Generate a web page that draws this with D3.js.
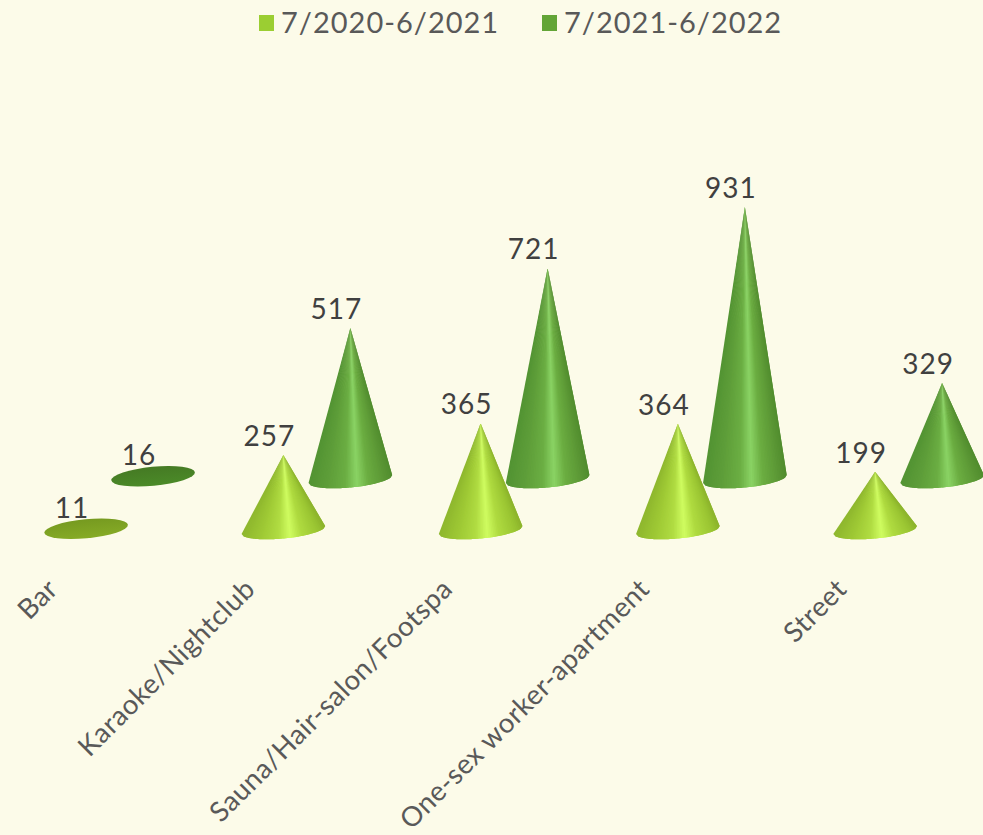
<!DOCTYPE html>
<html>
<head>
<meta charset="utf-8">
<script src="https://cdn.jsdelivr.net/npm/d3@7"></script>
<style>
  html, body { margin: 0; padding: 0; background: #fcfbe9; }
  svg { display: block; }
  text { font-family: "Lato", "Open Sans", sans-serif; }
</style>
</head>
<body>
<div id="chart"></div>
<script>
const categories = ["Bar", "Karaoke/Nightclub", "Sauna/Hair-salon/Footspa", "One-sex worker-apartment", "Street"];
const seriesNames = ["7/2020-6/2021", "7/2021-6/2022"];
const values2021 = [11, 257, 365, 364, 199];
const values2022 = [16, 517, 721, 931, 329];

const svgWidth = 983;
const svgHeight = 835;

// baseline of the front row, the back row sits further up
const baseY = 530;
const depthY = [0, -51];
const coneRx = 42;
const coneRy = 8.5;
const coneTilt = -5.5 * Math.PI / 180;
const coneSlices = 48;

const svg = d3.select("#chart")
    .append("svg")
    .attr("width", svgWidth)
    .attr("height", svgHeight)
    .attr("viewBox", `0 0 ${svgWidth} ${svgHeight}`);

const defs = svg.append("defs");

// shading across the cone, 0 is the left edge and 1 the right edge
const shadeStops = [0, 0.22, 0.42, 0.56, 0.7, 0.9, 1];
const shade = [
    d3.scaleLinear().domain(shadeStops).range(["#8fb82e", "#9fca35", "#b0dc42", "#cffc60", "#afdb40", "#9ac532", "#8ab12a"]),
    d3.scaleLinear().domain(shadeStops).range(["#539433", "#5f9f3a", "#6bae43", "#8ad364", "#6bad41", "#5a9634", "#4f8b2d"])
];
const discColors = [["#86ab26", "#769a20"], ["#4b8a28", "#457a24"]];

discColors.forEach(function (c, i) {
    const disc = defs.append("linearGradient")
        .attr("id", `disc${i}`)
        .attr("x1", 0).attr("y1", 1).attr("x2", 0).attr("y2", 0);
    disc.append("stop").attr("offset", 0).attr("stop-color", c[0]);
    disc.append("stop").attr("offset", 1).attr("stop-color", c[1]);
});

const x = d3.scaleBand()
    .domain(categories)
    .range([21, 1007.25]);

const x1 = d3.scaleBand()
    .domain(seriesNames)
    .range([31.6, 165.6]);

const y = d3.scaleLinear()
    .domain([0, 931])
    .range([0, -272]);

// labels under the cones
const xAxis = svg.append("g")
    .attr("class", "axis axis-x")
    .attr("transform", `translate(-74, 577)`)
    .call(d3.axisBottom(x).tickSize(0));
xAxis.select(".domain").remove();
xAxis.selectAll("text")
    .attr("transform", "rotate(-45)")
    .attr("text-anchor", "end")
    .attr("dx", 0)
    .attr("dy", "0.6em")
    .attr("fill", "#595959")
    .style("font-size", "27.5px")
    .style("letter-spacing", "0.5px");

const rows = d3.cross(categories.map((c, i) => i), [0, 1]);
// back row first so the front cones stay on top
rows.sort((a, b) => b[1] - a[1] || a[0] - b[0]);
const allValues = [values2021, values2022];

// point on the tilted base ellipse, u runs 0..1 from left edge to right edge along the front
function basePoint(u) {
    const px = coneRx * (2 * u - 1);
    const py = coneRy * Math.sqrt(Math.max(0, 1 - (2 * u - 1) * (2 * u - 1)));
    return [
        px * Math.cos(coneTilt) - py * Math.sin(coneTilt),
        px * Math.sin(coneTilt) + py * Math.cos(coneTilt)
    ];
}

const marks = svg.selectAll(".cone")
    .data(rows)
    .enter()
    .append("g")
    .attr("class", "cone")
    .attr("transform", d => `translate(${x(categories[d[0]]) + x1(seriesNames[d[1]]) + x1.bandwidth() / 2}, ${baseY + depthY[d[1]]})`);

marks.each(function (d) {
    const g = d3.select(this);
    const v = allValues[d[1]][d[0]];
    if (v < 30) {
        // tiny values are nearly flat, only the base disc shows
        g.append("ellipse")
            .attr("rx", coneRx)
            .attr("ry", coneRy + 1)
            .attr("transform", `translate(0, ${y(v) + 2}) rotate(${coneTilt * 180 / Math.PI})`)
            .attr("fill", `url(#disc${d[1]})`);
    } else {
        // fan of thin slices from the tip, so the highlight narrows towards the tip
        // each slice reaches over the next one so no seams show, and they paint left to right
        const slices = d3.range(coneSlices).map(k => k / coneSlices);
        g.selectAll("path")
            .data(slices)
            .enter()
            .append("path")
            .attr("d", function (u) {
                const pts = [u, u + 1 / coneSlices, u + 2 / coneSlices]
                    .map(t => basePoint(Math.min(t, 1)));
                return `M0,${y(v)}L${pts.map(p => p.join(",")).join("L")}Z`;
            })
            .attr("fill", u => shade[d[1]](u));
    }
    g.append("text")
        .text(v)
        .attr("x", -14)
        .attr("y", y(v) - 9)
        .attr("text-anchor", "middle")
        .attr("fill", "#404040")
        .style("font-size", "28px")
        .style("letter-spacing", "1px");
});

// legend
const legendX = [259, 542];
const legend = svg.selectAll(".legend")
    .data(seriesNames)
    .enter()
    .append("g")
    .attr("class", "legend")
    .attr("transform", (d, i) => `translate(${legendX[i]}, 15)`);
legend.append("rect")
    .attr("width", 15)
    .attr("height", 16)
    .attr("fill", (d, i) => ["#9bce32", "#63a537"][i]);
legend.append("text")
    .text(d => d)
    .attr("x", 22)
    .attr("y", 18)
    .attr("fill", "#595959")
    .style("font-size", "29px")
    .style("letter-spacing", "1px");
</script>
</body>
</html>
